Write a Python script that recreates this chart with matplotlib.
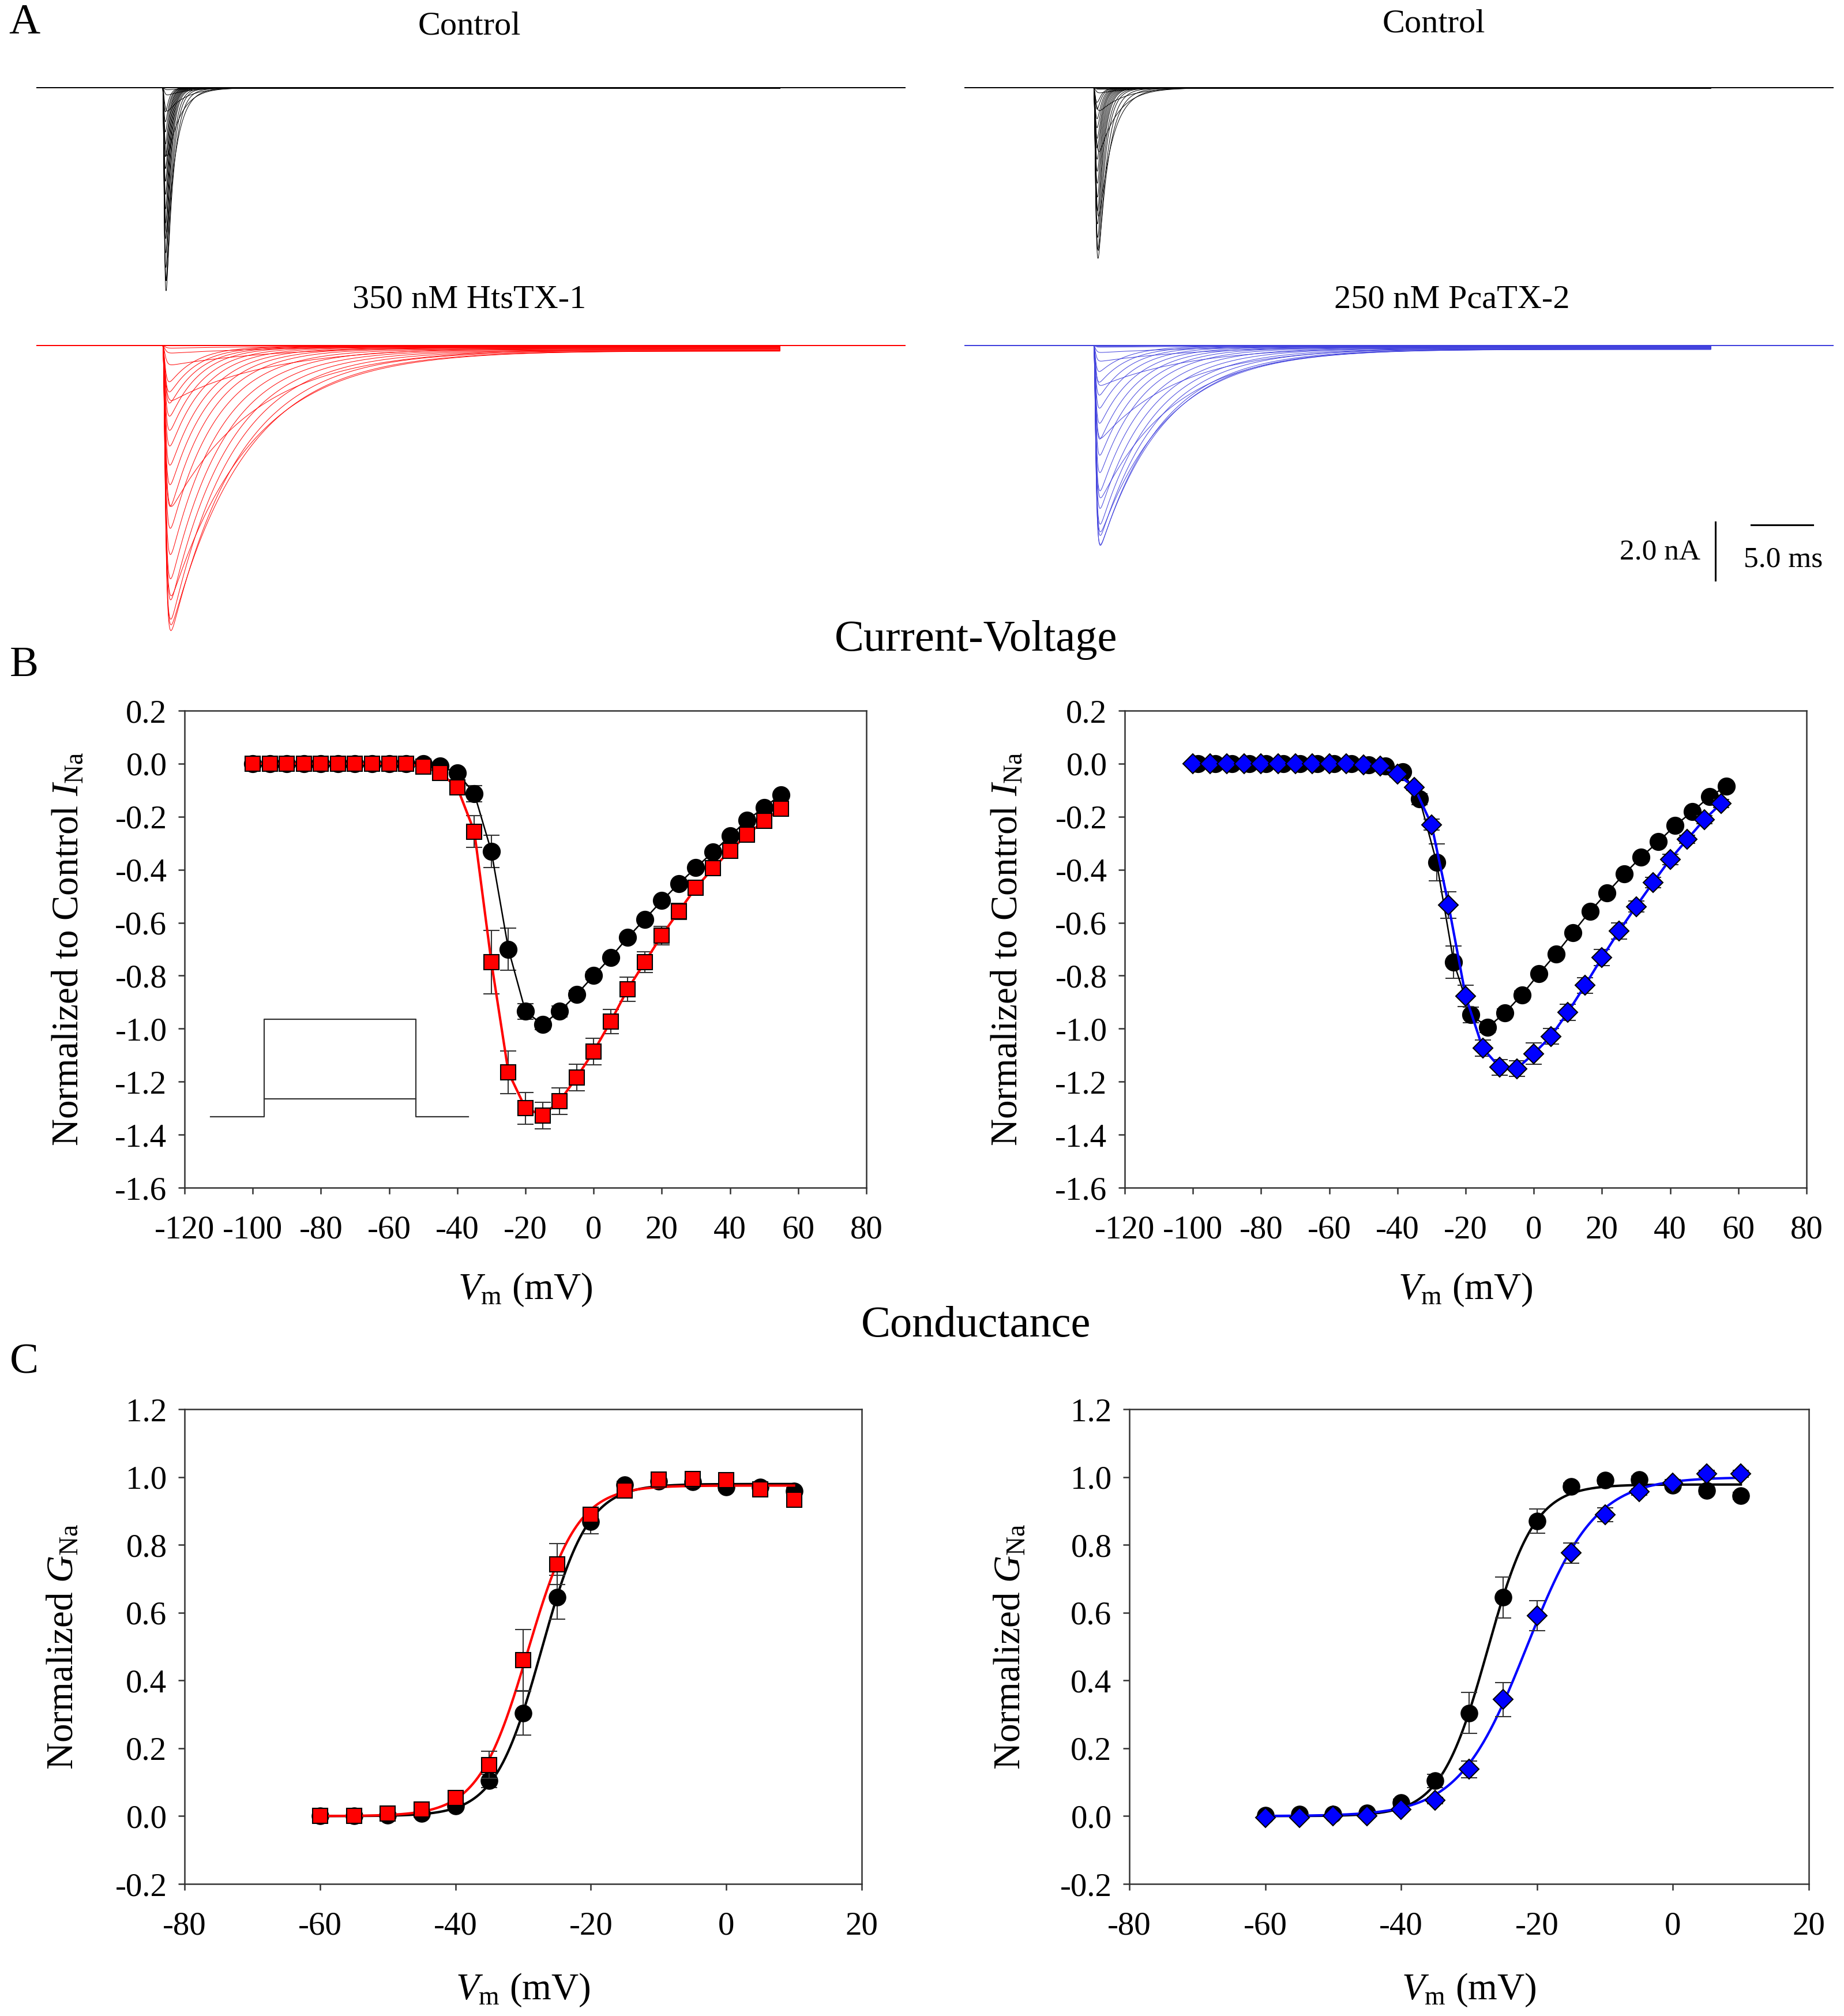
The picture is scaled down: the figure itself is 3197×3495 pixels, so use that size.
import numpy as np
import matplotlib
matplotlib.use('Agg')
import matplotlib.pyplot as plt

plt.rcParams['font.family'] = ['Liberation Serif', 'DejaVu Serif']
plt.rcParams['mathtext.fontset'] = 'custom'
plt.rcParams['mathtext.rm'] = 'Liberation Serif'
plt.rcParams['mathtext.it'] = 'Liberation Serif:italic'
plt.rcParams['axes.unicode_minus'] = False

W, H = 3197, 3495

# ---------------- data ----------------
# test potentials of the I-V protocol (mV)
iv_v = [-100, -95, -90, -85, -80, -75, -70, -65, -60, -55, -50, -45, -40, -35, -30, -25,
        -20, -15, -10, -5, 0, 5, 10, 15, 20, 25, 30, 35, 40, 45, 50, 55]

# B left: control vs 350 nM HtsTX-1
iv_ctrl_L = [0, 0, 0, 0, 0, 0, 0, 0, 0, 0, 0, -0.01, -0.035, -0.113, -0.331, -0.70,
             -0.935, -0.984, -0.935, -0.871, -0.80, -0.731, -0.656, -0.587, -0.517, -0.453,
             -0.392, -0.334, -0.273, -0.214, -0.165, -0.117]
iv_ctrl_L_err = [0, 0, 0, 0, 0, 0, 0, 0, 0, 0, 0, 0.005, 0.01, 0.03, 0.06, 0.08,
                 0.03, 0.02, 0.02, 0.015, 0.015, 0.01, 0.01, 0.01, 0.01, 0.01,
                 0.01, 0.01, 0.01, 0.01, 0.01, 0.01]
iv_hts = [0, 0, 0, 0, 0, 0, 0, 0, 0, 0, -0.012, -0.035, -0.09, -0.256, -0.749, -1.165,
          -1.30, -1.327, -1.274, -1.184, -1.086, -0.973, -0.851, -0.749, -0.648, -0.557,
          -0.468, -0.395, -0.329, -0.268, -0.216, -0.169]
iv_hts_err = [0, 0, 0, 0, 0, 0, 0, 0, 0, 0, 0.005, 0.01, 0.02, 0.06, 0.12, 0.08,
              0.06, 0.05, 0.05, 0.05, 0.05, 0.045, 0.045, 0.04, 0.035, 0.03,
              0.025, 0.02, 0.02, 0.015, 0.015, 0.015]

# B right: control vs 250 nM PcaTX-2 (control points sit ~1.5 mV to the right)
iv_v_ctrl_R = [-98.5, -93.5, -88.5, -83.5, -78.5, -73.5, -68.5, -63.5, -58.5, -53.5, -48.5,
               -43.5, -38.5, -33.5, -28.5, -23.5, -18.5, -13.5, -8.5, -3.5, 1.5, 6.5, 11.5,
               16.5, 21.5, 26.5, 31.5, 36.5, 41.5, 46.5, 51.5, 56.5]
iv_ctrl_R = [0, 0, 0, 0, 0, 0, 0, 0, 0, 0, -0.005, -0.01, -0.03, -0.134, -0.373, -0.749,
             -0.948, -0.994, -0.941, -0.872, -0.793, -0.718, -0.637, -0.557, -0.487, -0.417,
             -0.352, -0.295, -0.233, -0.181, -0.125, -0.085]
iv_ctrl_R_err = [0, 0, 0, 0, 0, 0, 0, 0, 0, 0, 0, 0.005, 0.01, 0.02, 0.07, 0.06,
                 0.03, 0.02, 0.015, 0.015, 0.01, 0.01, 0.01, 0.01, 0.01, 0.01,
                 0.01, 0.01, 0.01, 0.01, 0.01, 0.01]
iv_pca = [0, 0, 0, 0, 0, 0, 0, 0, 0, 0, -0.005, -0.01, -0.04, -0.09, -0.23, -0.534,
          -0.877, -1.073, -1.146, -1.151, -1.094, -1.029, -0.938, -0.837, -0.732, -0.632,
          -0.539, -0.448, -0.361, -0.286, -0.211, -0.15]
iv_pca_err = [0, 0, 0, 0, 0, 0, 0, 0, 0, 0, 0.005, 0.005, 0.01, 0.01, 0.02, 0.05,
              0.04, 0.03, 0.03, 0.03, 0.04, 0.03, 0.03, 0.03, 0.03, 0.03,
              0.02, 0.02, 0.02, 0.015, 0.015, 0.015]

# C: normalized conductance
g_v = [-60, -55, -50, -45, -40, -35, -30, -25, -20, -15, -10, -5, 0, 5, 10]
g_ctrl_L = [0, 0, 0.003, 0.007, 0.03, 0.104, 0.304, 0.645, 0.868, 0.977, 0.987, 0.985, 0.97, 0.97, 0.959]
g_ctrl_L_err = [0, 0, 0, 0.005, 0.01, 0.02, 0.065, 0.065, 0.035, 0.01, 0.01, 0.01, 0.01, 0.01, 0.01]
g_hts = [0, 0, 0.007, 0.02, 0.053, 0.151, 0.46, 0.743, 0.889, 0.96, 0.993, 0.994, 0.99, 0.963, 0.933]
g_hts_err = [0, 0, 0.005, 0.01, 0.01, 0.04, 0.09, 0.06, 0.02, 0.01, 0.01, 0.01, 0.01, 0.01, 0.01]
g_ctrl_R = [0.003, 0.005, 0.006, 0.01, 0.04, 0.104, 0.304, 0.645, 0.87, 0.972, 0.99, 0.993, 0.975, 0.96, 0.945]
g_ctrl_R_err = [0, 0, 0, 0.005, 0.01, 0.02, 0.06, 0.06, 0.035, 0.01, 0.01, 0.01, 0.01, 0.01, 0.01]
g_pca = [-0.004, -0.004, 0.0, 0.0, 0.019, 0.046, 0.138, 0.344, 0.591, 0.776, 0.889, 0.956, 0.983, 1.009, 1.009]
g_pca_err = [0, 0, 0, 0, 0.005, 0.01, 0.025, 0.05, 0.045, 0.03, 0.02, 0.01, 0.01, 0.01, 0.01]

# A: current traces, peak amplitude (nA) of largest sweep, inactivation tau (ms) per sweep
peak_ctrl_L, peak_hts, peak_ctrl_R, peak_pca = 6.95, 9.6, 5.84, 6.73
tau_ctrl_L = [2.0] * 11 + [2.0, 1.8, 1.5, 1.1, 0.8, 0.6, 0.5, 0.45, 0.4, 0.38, 0.36,
                           0.35, 0.34, 0.33, 0.32, 0.31, 0.3, 0.3, 0.29, 0.29, 0.28]
tau_ctrl_R = [2.5] * 11 + [2.5, 2.3, 2.0, 1.5, 1.1, 0.85, 0.7, 0.6, 0.55, 0.5, 0.48,
                           0.46, 0.44, 0.42, 0.4, 0.39, 0.38, 0.37, 0.36, 0.35, 0.35]
tau_hts = [10.0] * 11 + [10.0, 9.0, 8.0, 7.0, 6.5, 6.0, 5.5, 5.0, 4.7, 4.4, 4.1,
                         3.8, 3.5, 3.3, 3.1, 2.9, 2.7, 2.5, 2.4, 2.3, 2.2]
tau_pca = [10.0] * 11 + [10.0, 9.5, 8.5, 7.5, 6.5, 6.0, 5.5, 5.2, 5.0, 4.7, 4.4,
                         4.1, 3.8, 3.5, 3.3, 3.1, 2.9, 2.7, 2.5, 2.4, 2.3]

# voltage protocol sketch (inset, in I-V data units)
proto_x = [-112.4, -96.7, -96.7, -52.1, -52.1, -36.8]
proto_y = [-1.332, -1.332, -0.964, -0.964, -1.332, -1.332]
proto_step_x = [-96.7, -52.1]
proto_step_y = [-1.264, -1.264]

fig = plt.figure(figsize=(W / 100, H / 100), dpi=100)
fig.patch.set_facecolor('white')


def px_axes(x0, y0, x1, y1):
    return fig.add_axes([x0 / W, 1 - y1 / H, (x1 - x0) / W, (y1 - y0) / H])


def ftext(x, y, s, **kw):
    fig.text(x / W, 1 - y / H, s, **kw)


# ---------------- panel A ----------------
NA_PX = 50.5      # pixels per nA
T_TOTAL = 70.4    # ms across trace panel


def trace_axes(x0, y0, x1, y1, base):
    ax = px_axes(x0, y0, x1, y1)
    ax.set_xlim(0, T_TOTAL)
    ax.set_ylim(-(y1 - base) / NA_PX, (base - y0) / NA_PX)
    ax.axis('off')
    return ax


def draw_family(ax, iv, peak, taus, t_on, t_m, persist, color, lw):
    t = np.linspace(0, T_TOTAL, 4000)
    scale = peak / max(abs(v) for v in iv)
    tt = np.clip(t - t_on, 0, None)
    act = (1 - np.exp(-tt / t_m)) ** 3
    on = (t > t_on) & (t < t_on + 50)
    for val, th in zip(iv, taus):
        f = act * np.exp(-tt / th)
        f = f / f.max()
        y = val * scale * (f + persist * act) * on
        ax.plot(t, y, color=color, lw=lw, solid_joinstyle='round')
    ax.plot(t, np.zeros_like(t), color=color, lw=lw * 2)


ax = trace_axes(63, 110, 1570, 540, 152)
draw_family(ax, iv_ctrl_L, peak_ctrl_L, tau_ctrl_L, 10.23, 0.10, 0.004, 'black', 0.7)
ax = trace_axes(63, 560, 1570, 1110, 599)
draw_family(ax, iv_hts, peak_hts, tau_hts, 10.23, 0.14, 0.02, '#ff0000', 0.7)
ax = trace_axes(1672, 110, 3179, 540, 152)
draw_family(ax, iv_ctrl_R, peak_ctrl_R, tau_ctrl_R, 10.47, 0.12, 0.004, 'black', 0.7)
ax = trace_axes(1672, 560, 3179, 1040, 599)
draw_family(ax, iv_pca, peak_pca, tau_pca, 10.47, 0.11, 0.02, '#4040dd', 0.7)

# scale bars
ax.plot([60.8, 60.8], [-6.06, -8.06], color='black', lw=2.2)
ax.plot([63.74, 68.74], [-6.16, -6.16], color='black', lw=2.2)
ax.text(59.6, -7.09, '2.0 nA', ha='right', va='center', fontsize=37)
ax.text(66.3, -7.35, '5.0 ms', ha='center', va='center', fontsize=37)

ftext(814, 45, 'Control', ha='center', va='center', fontsize=42)
ftext(2486, 42, 'Control', ha='center', va='center', fontsize=42)
ftext(814, 519, '350 nM HtsTX-1', ha='center', va='center', fontsize=42)
ftext(2517, 519, '250 nM PcaTX-2', ha='center', va='center', fontsize=42)


# ---------------- helpers for B / C ----------------
def style(ax):
    for s in ax.spines.values():
        s.set_linewidth(1.8)
        s.set_color('#333333')
    ax.tick_params(axis='both', direction='out', length=8, width=1.8, color='#333333',
                   labelsize=41, top=False, right=False)
    ax.tick_params(axis='y', pad=14)
    ax.tick_params(axis='x', pad=26)


def fmt1(v):
    v = round(float(v), 1)
    return '%.1f' % (0.0 if abs(v) < 1e-9 else v)


def series(ax, x, y, err, marker, ms, color, lc, lw, z):
    ax.errorbar(x, y, yerr=err, fmt='none', ecolor='#333333', elinewidth=1.5,
                capsize=10, capthick=1.5, zorder=z)
    ax.plot(x, y, color=lc, lw=lw, marker=marker, ms=ms, mfc=color, mec='black',
            mew=1.5, zorder=z + 0.5)


def boltz_fit(v, g):
    v = np.asarray(v, float)
    g = np.asarray(g, float)
    vh = np.arange(-45, -5, 0.1)[:, None, None]
    k = np.arange(1.5, 12, 0.05)[None, :, None]
    b = 1 / (1 + np.exp((vh - v) / k))
    gmax = (b * g).sum(-1) / (b * b).sum(-1)
    res = ((gmax[..., None] * b - g) ** 2).sum(-1)
    i, j = np.unravel_index(np.argmin(res), res.shape)
    return vh[i, 0, 0], k[0, j, 0], gmax[i, j]


def fit_line(ax, v, g, color, z):
    vh, k, gmax = boltz_fit(v, g)
    vv = np.linspace(min(v), max(v), 400)
    ax.plot(vv, gmax / (1 + np.exp((vh - vv) / k)), color=color, lw=3, zorder=z)


def iv_axes(x0, x1, label_x):
    ax = px_axes(x0, 1232, x1, 2059)
    style(ax)
    ax.set_xlim(-120, 80)
    ax.set_ylim(-1.6, 0.2)
    ax.set_xticks(range(-120, 81, 20))
    yt = np.arange(-1.6, 0.21, 0.2)
    ax.set_yticks(yt)
    ax.set_yticklabels([fmt1(v) for v in yt])
    ax.set_xlabel('$V_{\\mathrm{m}}$ (mV)', fontsize=47)
    ax.xaxis.set_label_coords(0.5, -0.175)
    ax.set_ylabel('Normalized to Control $I_{\\mathrm{Na}}$', fontsize=47)
    ax.yaxis.set_label_coords(label_x, 0.5)
    return ax


def g_axes(x0, x1, label_x):
    ax = px_axes(x0, 2443, x1, 3266)
    style(ax)
    ax.set_xlim(-80, 20)
    ax.set_ylim(-0.2, 1.2)
    ax.set_xticks(range(-80, 21, 20))
    yt = np.arange(-0.2, 1.21, 0.2)
    ax.set_yticks(yt)
    ax.set_yticklabels([fmt1(v) for v in yt])
    ax.set_xlabel('$V_{\\mathrm{m}}$ (mV)', fontsize=47)
    ax.xaxis.set_label_coords(0.5, -0.185)
    ax.set_ylabel('Normalized $G_{\\mathrm{Na}}$', fontsize=47)
    ax.yaxis.set_label_coords(label_x, 0.5)
    return ax


# ---------------- panel B ----------------
ax = iv_axes(320, 1502, -0.145)
series(ax, iv_v, iv_ctrl_L, iv_ctrl_L_err, 'o', 21, 'black', 'black', 1.8, 2)
series(ax, iv_v, iv_hts, iv_hts_err, 's', 19, '#ff0000', '#ff0000', 3, 4)
ax.plot(proto_x, proto_y, color='#333333', lw=1.6)
ax.plot(proto_step_x, proto_step_y, color='#333333', lw=1.6)

ax = iv_axes(1950, 3132, -0.146)
series(ax, iv_v_ctrl_R, iv_ctrl_R, iv_ctrl_R_err, 'o', 21, 'black', 'black', 1.8, 2)
series(ax, iv_v, iv_pca, iv_pca_err, 'D', 17, '#0000ff', '#0000ff', 3, 4)

# ---------------- panel C ----------------
ax = g_axes(320, 1494, -0.153)
fit_line(ax, g_v, g_ctrl_L, 'black', 2)
ax.errorbar(g_v, g_ctrl_L, yerr=g_ctrl_L_err, fmt='none', ecolor='#333333', elinewidth=1.5,
            capsize=10, capthick=1.5, zorder=2.2)
ax.plot(g_v, g_ctrl_L, 'o', ms=21, color='black', zorder=2.5)
fit_line(ax, g_v, g_hts, '#ff0000', 4)
ax.errorbar(g_v, g_hts, yerr=g_hts_err, fmt='none', ecolor='#333333', elinewidth=1.5,
            capsize=10, capthick=1.5, zorder=4.2)
ax.plot(g_v, g_hts, 's', ms=19, mfc='#ff0000', mec='black', mew=1.5, zorder=4.5)

ax = g_axes(1958, 3136, -0.149)
fit_line(ax, g_v, g_ctrl_R, 'black', 2)
ax.errorbar(g_v, g_ctrl_R, yerr=g_ctrl_R_err, fmt='none', ecolor='#333333', elinewidth=1.5,
            capsize=10, capthick=1.5, zorder=2.2)
ax.plot(g_v, g_ctrl_R, 'o', ms=21, color='black', zorder=2.5)
fit_line(ax, g_v, g_pca, '#0000ff', 4)
ax.errorbar(g_v, g_pca, yerr=g_pca_err, fmt='none', ecolor='#333333', elinewidth=1.5,
            capsize=10, capthick=1.5, zorder=4.2)
ax.plot(g_v, g_pca, 'D', ms=17, mfc='#0000ff', mec='black', mew=1.5, zorder=4.5)

# ---------------- titles & panel letters ----------------
ftext(1692, 1109, 'Current-Voltage', ha='center', va='center', fontsize=55)
ftext(1692, 2298, 'Conductance', ha='center', va='center', fontsize=55)
ftext(42, 40, 'A', ha='center', va='center', fontsize=54)
ftext(42, 1154, 'B', ha='center', va='center', fontsize=54)
ftext(42, 2363, 'C', ha='center', va='center', fontsize=54)

fig.savefig('out.png', dpi=100, facecolor='white')
